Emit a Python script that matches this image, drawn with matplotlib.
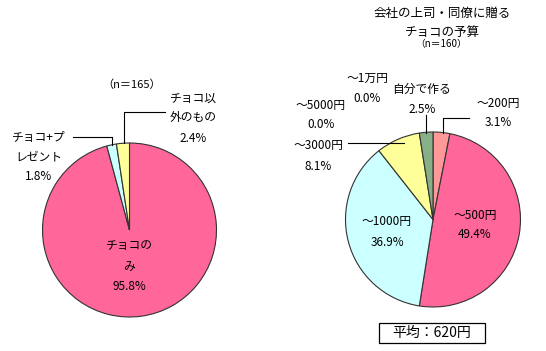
import matplotlib
matplotlib.use("Agg")
import matplotlib.pyplot as plt
from matplotlib.patches import Rectangle

plt.rcParams["font.family"] = ["Noto Sans CJK JP", "DejaVu Sans"]

# Left pie: what is given to boss / colleagues (n=165)
left_labels = ["チョコの\nみ", "チョコ+プ\nレゼント", "チョコ以\n外のもの"]
left_values = [95.8, 1.8, 2.4]
left_colors = ["#FF6699", "#CCFFFF", "#FFFF99"]

# Right pie: budget (n=160)
right_labels = ["～200円", "～500円", "～1000円", "～3000円", "～5000円", "～1万円", "自分で作る"]
right_values = [3.1, 49.4, 36.9, 8.1, 0.0, 0.0, 2.5]
right_colors = ["#FF9999", "#FF6699", "#CCFFFF", "#FFFF99", "#9999FF", "#FFCC99", "#88B088"]

H = 351
fig = plt.figure(figsize=(5.46, 3.51), dpi=100)
ax = fig.add_axes([0, 0, 1, 1])

wp = dict(edgecolor="#333333", linewidth=0.8)
ax.pie(left_values, colors=left_colors, startangle=90, counterclock=False,
       center=(129.5, H - 230), radius=87, wedgeprops=wp)
vals = [v for v in right_values if v > 0]
cols = [c for v, c in zip(right_values, right_colors) if v > 0]
ax.pie(vals, colors=cols, startangle=90, counterclock=False,
       center=(433, H - 219.5), radius=87.5, wedgeprops=wp)

ax.set_xlim(0, 546)
ax.set_ylim(0, H)
ax.set_aspect("equal")
ax.axis("off")

fs = 8.5
ls = 1.7


def label(x, y, s, **kw):
    ax.text(x, H - y, s, ha="center", va="center", fontsize=kw.pop("fontsize", fs),
            linespacing=kw.pop("linespacing", ls), **kw)


def line(xs, ys):
    ax.plot(xs, [H - y for y in ys], color="black", lw=0.8)


# left pie texts
label(131.5, 85, "（n＝165）", fontsize=8)
label(129, 266, f"{left_labels[0]}\n{left_values[0]}%")
label(39, 157, f"{left_labels[1]}\n{left_values[1]}%")
label(193, 118, f"{left_labels[2]}\n{left_values[2]}%")
line([112, 112, 73], [145, 137, 137])
line([124, 124, 165], [143, 112, 112])

# right pie texts
label(442, 23, "会社の上司・同僚に贈る\nチョコの予算", fontsize=9, linespacing=1.6)
label(441, 44, "（n＝160）", fontsize=7)
label(498, 113, f"{right_labels[0]}\n{right_values[0]}%")
label(475, 225, f"{right_labels[1]}\n{right_values[1]}%")
label(387, 232, f"{right_labels[2]}\n{right_values[2]}%")
label(318, 156, f"{right_labels[3]}\n{right_values[3]}%")
label(321, 115, f"{right_labels[4]}\n{right_values[4]}%")
label(367, 88.5, f"{right_labels[5]}\n{right_values[5]}%")
label(422, 99.5, f"{right_labels[6]}\n{right_values[6]}%")
line([442.7, 442.7, 469], [133, 118, 118])
line([425.7, 425.7], [133, 115])
line([348, 404], [143, 143])

ax.add_patch(Rectangle((379, H - 343), 106, 20, facecolor="white",
                       edgecolor="black", linewidth=0.9))
ax.text(432, H - 333, "平均：620円", ha="center", va="center", fontsize=10)

fig.savefig("out.png", dpi=100)
